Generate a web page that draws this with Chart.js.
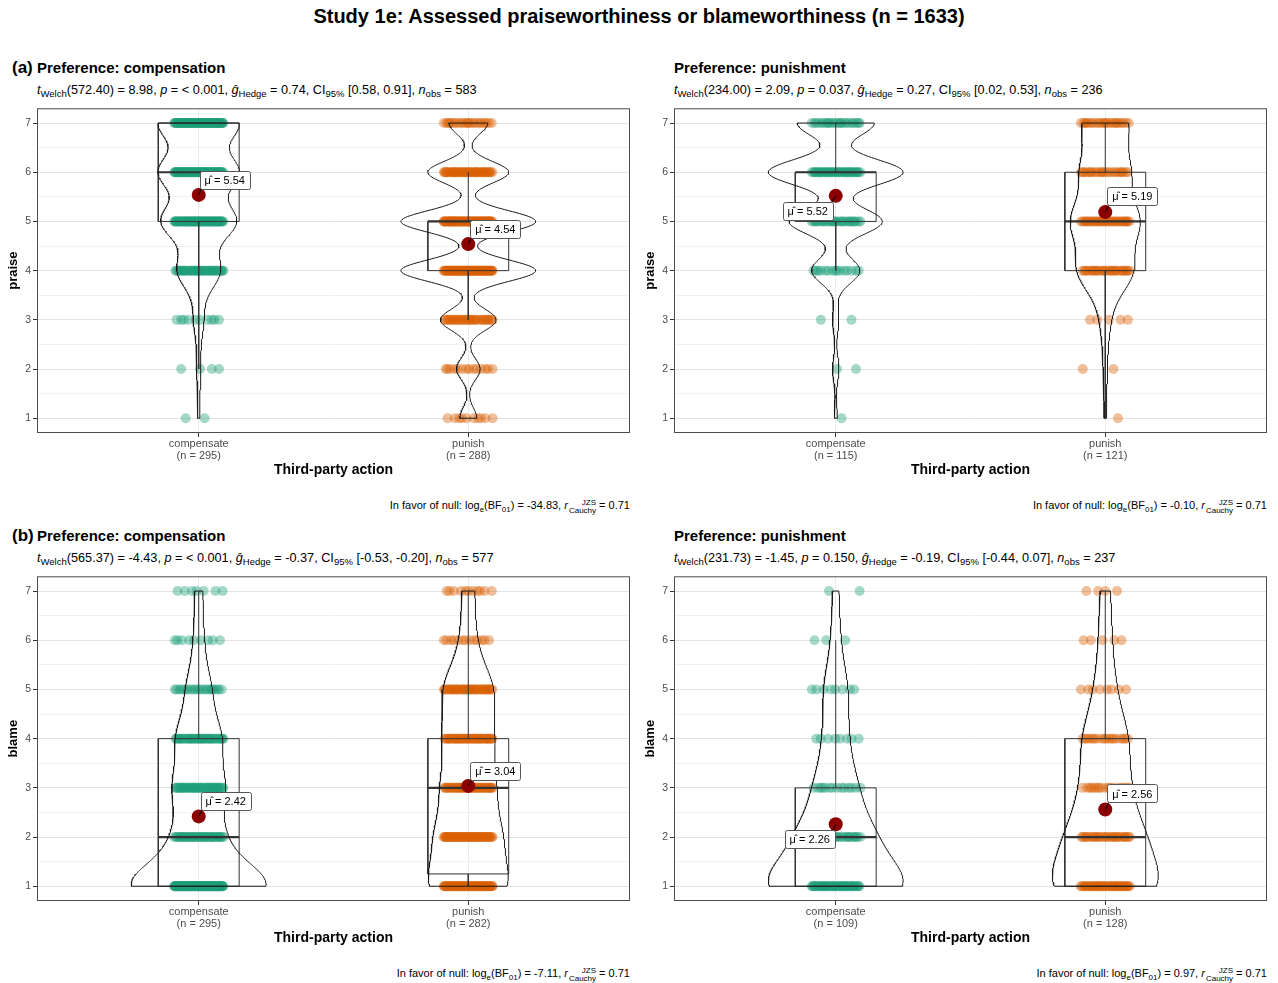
<!DOCTYPE html>
<html><head><meta charset="utf-8">
<script src="https://cdn.jsdelivr.net/npm/chart.js@4.4.1/dist/chart.umd.min.js"></script>
<style>
body{margin:0;background:#fff;width:1278px;height:983px;position:relative;overflow:hidden;font-family:'Liberation Sans',Arial,sans-serif;color:#000}
.t{position:absolute;white-space:nowrap}
canvas{position:absolute}
.title{left:0;width:1278px;text-align:center;font-size:20px;line-height:20px;font-weight:bold;top:6px}
.tag{font-size:17px;line-height:17px;font-weight:bold}
.ptitle{font-size:15px;line-height:15px;font-weight:bold}
.sub{font-size:12.7px;line-height:13px}
.sub sub{font-size:9.5px;vertical-align:-3px;line-height:0}
.foot{font-size:11px;line-height:11px;text-align:right}
.foot sub{font-size:8px;vertical-align:-3px;line-height:0}
.ss{display:inline-flex;flex-direction:column;vertical-align:4px;font-size:8px;line-height:8px;margin-left:1px}
</style></head><body>
<div id="root"></div>
<script>
// ---------------- DATA ----------------
const mainTitle = 'Study 1e: Assessed praiseworthiness or blameworthiness (n = 1633)';
const categories = ['compensate', 'punish'];
const yTicks = [1, 2, 3, 4, 5, 6, 7];
const yGrid = [1, 1.5, 2, 2.5, 3, 3.5, 4, 4.5, 5, 5.5, 6, 6.5, 7];
const panelTags = ['(a)', '', '(b)', ''];
const panelTitles = ['Preference: compensation', 'Preference: punishment', 'Preference: compensation', 'Preference: punishment'];
const yTitles = ['praise', 'praise', 'blame', 'blame'];
const xTitle = 'Third-party action';

// counts of responses at 1..7 for each group (compensate, punish)
const praiseComp_comp = [2, 4, 10, 43, 75, 80, 81];
const praiseComp_pun  = [10, 14, 33, 80, 80, 48, 23];
const praisePun_comp  = [1, 2, 2, 15, 29, 42, 24];
const praisePun_pun   = [1, 2, 5, 29, 35, 25, 24];
const blameComp_comp  = [130, 42, 45, 40, 22, 9, 7];
const blameComp_pun   = [71, 56, 45, 42, 44, 13, 11];
const blamePun_comp   = [49, 25, 14, 8, 8, 3, 2];
const blamePun_pun    = [45, 30, 18, 18, 8, 5, 4];

// group means (as labelled)
const means_praiseComp = [5.54, 4.54];
const means_praisePun  = [5.52, 5.19];
const means_blameComp  = [2.42, 3.04];
const means_blamePun   = [2.26, 2.56];

// statistics in subtitles / captions
const welchDf  = [572.40, 234.00, 565.37, 231.73];
const tStat    = [8.98, 2.09, -4.43, -1.45];
const pText    = ['< 0.001', '0.037', '< 0.001', '0.150'];
const gHedge   = [0.74, 0.27, -0.37, -0.19];
const ciLow    = [0.58, 0.02, -0.53, -0.44];
const ciHigh   = [0.91, 0.53, -0.20, 0.07];
const nObs     = [583, 236, 577, 237];
const logBF01  = [-34.83, -0.10, -7.11, 0.97];
const rCauchy  = [0.71, 0.71, 0.71, 0.71];

// ---------------- STYLE ----------------
const groupColors = ['rgba(27,158,119,0.4)', 'rgba(217,95,2,0.4)'];
const panelLayout = [
  {left: 0,   top: 100, textTop: 58},
  {left: 637, top: 100, textTop: 58},
  {left: 0,   top: 568, textTop: 526},
  {left: 637, top: 568, textTop: 526}
];
const meanLabelOffsets = [[[26, -15], [27, -15]], [[-28, 15], [27, -16]], [[27, -15], [27, -15]], [[-26, 15], [27, -16]]];
const JITTER = 0.092, BOX_HALF = 0.15, VIOLIN_HALF = 0.25;

Chart.defaults.font.family = "'Liberation Sans', Arial, sans-serif";

const panels = [
  {counts: [praiseComp_comp, praiseComp_pun], means: means_praiseComp},
  {counts: [praisePun_comp, praisePun_pun], means: means_praisePun},
  {counts: [blameComp_comp, blameComp_pun], means: means_blameComp},
  {counts: [blamePun_comp, blamePun_pun], means: means_blamePun}
];

// ---------------- HELPERS ----------------
const f2 = v => v.toFixed(2);
function expand(counts) { const a = []; counts.forEach((c, i) => { for (let k = 0; k < c; k++) a.push(yTicks[i]); }); return a; }
function q7(s, p) { const h = (s.length - 1) * p, lo = Math.floor(h), hi = Math.ceil(h); return s[lo] + (h - lo) * (s[hi] - s[lo]); }
function boxStats(counts) {
  const s = expand(counts);
  const q1 = q7(s, 0.25), med = q7(s, 0.5), q3 = q7(s, 0.75), iqr = q3 - q1;
  const lo = s.find(v => v >= q1 - 1.5 * iqr), hi = [...s].reverse().find(v => v <= q3 + 1.5 * iqr);
  return {q1, med, q3, lo, hi};
}
function bwNrd0(counts) {
  const s = expand(counts), n = s.length;
  const m = s.reduce((a, b) => a + b, 0) / n;
  const sd = Math.sqrt(s.reduce((a, b) => a + (b - m) * (b - m), 0) / (n - 1));
  const iqr = q7(s, 0.75) - q7(s, 0.25);
  return 0.9 * Math.min(sd, iqr / 1.34) * Math.pow(n, -0.2);
}
function dens(counts, bw, y) {
  let s = 0, n = 0;
  counts.forEach((c, i) => { const z = (y - yTicks[i]) / bw; s += c * Math.exp(-0.5 * z * z); n += c; });
  return s / (n * bw * Math.sqrt(2 * Math.PI));
}
function frac(x) { return x - Math.floor(x); }

// ---------------- TEXT ----------------
const root = document.getElementById('root');
function addText(cls, html, style) { const d = document.createElement('div'); d.className = 't ' + cls; d.innerHTML = html; Object.assign(d.style, style); root.appendChild(d); return d; }
addText('title', mainTitle, {});

panels.forEach((p, pi) => {
  const L = panelLayout[pi];
  const plotLeft = L.left + 37, plotRight = L.left + 630;
  if (panelTags[pi]) addText('tag', panelTags[pi], {left: (L.left + 12) + 'px', top: (L.textTop + 0.5) + 'px'});
  addText('ptitle', panelTitles[pi], {left: plotLeft + 'px', top: (L.textTop + 2) + 'px'});
  addText('sub', '<i>t</i><sub>Welch</sub>(' + f2(welchDf[pi]) + ') = ' + f2(tStat[pi]) + ', <i>p</i> = ' + pText[pi] +
    ', <i>g\u0302</i><sub>Hedge</sub> = ' + f2(gHedge[pi]) + ', CI<sub>95%</sub> [' + f2(ciLow[pi]) + ', ' + f2(ciHigh[pi]) +
    '], <i>n</i><sub>obs</sub> = ' + nObs[pi], {left: plotLeft + 'px', top: (L.textTop + 25.5) + 'px'});
  addText('foot', 'In favor of null: log<sub>e</sub>(BF<sub>01</sub>) = ' + f2(logBF01[pi]) + ', <i>r</i><span class="ss"><span>JZS</span><span>Cauchy</span></span> = ' + f2(rCauchy[pi]),
    {right: (1278 - plotRight) + 'px', top: (L.textTop + 440.5) + 'px'});
});

// ---------------- CHARTS ----------------
const borderPlugin = {
  id: 'panelBorder',
  afterDraw(chart) {
    const {ctx, chartArea: a} = chart;
    ctx.save(); ctx.strokeStyle = '#4D4D4D'; ctx.lineWidth = 1;
    ctx.strokeRect(a.left + 0.5, a.top + 0.5, a.right - a.left - 1, a.bottom - a.top - 1);
    ctx.restore();
  }
};
const meanLabelPlugin = {
  id: 'meanLabels',
  afterDatasetsDraw(chart) {
    const o = chart.options.plugins.meanLabels;
    const {ctx} = chart, xs = chart.scales.x, ys = chart.scales.y;
    o.means.forEach((m, g) => {
      const px = xs.getPixelForValue(g + 1), py = ys.getPixelForValue(m);
      const [dx, dy] = o.offsets[g];
      ctx.save();
      ctx.font = "11px 'Liberation Sans', Arial, sans-serif";
      const txt = '\u03BC\u0302 = ' + f2(m);
      const w = ctx.measureText(txt).width + 10, h = 18;
      const cx = px + dx, cy = py + dy;
      const bl = cx - w / 2, bt = cy - h / 2;
      const ex = dx > 0 ? bl : bl + w, ey = dy < 0 ? bt + h : bt;
      ctx.strokeStyle = '#000'; ctx.lineWidth = 1;
      ctx.beginPath(); ctx.moveTo(px, py); ctx.lineTo(ex + (dx > 0 ? 3 : -3), ey + (dy < 0 ? -3 : 3)); ctx.stroke();
      ctx.fillStyle = '#fff'; ctx.strokeStyle = '#555';
      ctx.beginPath(); ctx.roundRect(Math.round(bl) + 0.5, Math.round(bt) + 0.5, Math.round(w), h, 2); ctx.fill(); ctx.stroke();
      ctx.fillStyle = '#000'; ctx.textAlign = 'center'; ctx.textBaseline = 'middle';
      ctx.fillText(txt, cx, cy + 1);
      ctx.restore();
    });
  }
};

panels.forEach((p, pi) => {
  const L = panelLayout[pi];
  const cv = document.createElement('canvas');
  cv.width = 640; cv.height = 380;
  cv.style.left = L.left + 'px'; cv.style.top = L.top + 'px';
  root.appendChild(cv);

  const bws = p.counts.map(bwNrd0);
  const grids = p.counts.map((c, g) => {
    const vmin = yTicks[c.findIndex(v => v > 0)], vmax = yTicks[c.length - 1 - [...c].reverse().findIndex(v => v > 0)];
    const N = 300, pts = [];
    for (let i = 0; i <= N; i++) { const y = vmin + (vmax - vmin) * i / N; pts.push({y, d: dens(c, bws[g], y)}); }
    return pts;
  });
  const dmax = Math.max(...grids.flat().map(q => q.d));

  const datasets = [];
  p.counts.forEach((c, g) => {
    const cx = g + 1;
    // mean point
    datasets.push({data: [{x: cx, y: p.means[g]}], pointRadius: 7, backgroundColor: '#8B0000', borderWidth: 0, order: 1});
    // violin
    const right = grids[g].map(q => ({x: cx + VIOLIN_HALF * q.d / dmax, y: q.y}));
    const left = grids[g].map(q => ({x: cx - VIOLIN_HALF * q.d / dmax, y: q.y})).reverse();
    datasets.push({data: right.concat(left, [right[0]]), showLine: true, pointRadius: 0, borderColor: '#1a1a1a', borderWidth: 1, fill: false, order: 2});
    // box
    const b = boxStats(c);
    const line = (pts, w) => ({data: pts, showLine: true, pointRadius: 0, borderColor: '#333', borderWidth: w, fill: false, order: 3});
    datasets.push(line([{x: cx - BOX_HALF, y: b.q1}, {x: cx + BOX_HALF, y: b.q1}, {x: cx + BOX_HALF, y: b.q3}, {x: cx - BOX_HALF, y: b.q3}, {x: cx - BOX_HALF, y: b.q1}], 1));
    datasets.push(line([{x: cx, y: b.q1}, {x: cx, y: b.lo}], 1));
    datasets.push(line([{x: cx, y: b.q3}, {x: cx, y: b.hi}], 1));
    datasets.push(line([{x: cx - BOX_HALF, y: b.med}, {x: cx + BOX_HALF, y: b.med}], 2.2));
    // jittered points
    const pts = [];
    c.forEach((n, i) => { for (let k = 0; k < n; k++) pts.push({x: cx + (frac((k + 1) * 0.6180339887 + i * 0.291 + g * 0.137) - 0.5) * 2 * JITTER, y: yTicks[i]}); });
    datasets.push({data: pts, pointRadius: 5, backgroundColor: groupColors[g], borderWidth: 0, order: 4});
  });

  const nLabels = p.counts.map(c => c.reduce((a, b) => a + b, 0));
  new Chart(cv, {
    type: 'scatter',
    data: {datasets},
    plugins: [borderPlugin, meanLabelPlugin],
    options: {
      responsive: false, animation: false, events: [], devicePixelRatio: 1,
      layout: {padding: {left: 0, top: 8, right: 10, bottom: 0}},
      plugins: {legend: {display: false}, tooltip: {enabled: false}, meanLabels: {means: p.means, offsets: meanLabelOffsets[pi]}},
      scales: {
        x: {
          type: 'linear', min: 0.4, max: 2.6,
          afterBuildTicks: s => { s.ticks = categories.map((_, i) => ({value: i + 1})); },
          afterFit: s => { s.height = 47; },
          ticks: {autoSkip: false, maxRotation: 0, padding: 1, color: '#4D4D4D', font: {size: 11, lineHeight: 1.1},
            callback: v => [categories[v - 1], '(n = ' + nLabels[v - 1] + ')']},
          grid: {color: '#EBEBEB', lineWidth: 1, tickLength: 4, tickColor: '#333'},
          border: {display: false},
          title: {display: true, text: xTitle, color: '#000', font: {size: 14, weight: 'bold', lineHeight: 1.2}, padding: {top: 0, bottom: 1}}
        },
        y: {
          type: 'linear', min: 0.7, max: 7.3,
          afterBuildTicks: s => { s.ticks = yGrid.map(v => ({value: v})); },
          afterFit: s => { s.width = 37; },
          ticks: {autoSkip: false, padding: 2, color: '#4D4D4D', font: {size: 10.5},
            callback: v => (yTicks.includes(v) ? String(v) : '')},
          grid: {color: c => (yTicks.includes(c.tick.value) ? '#E3E3E3' : '#F1F1F1'), lineWidth: 1, tickLength: 4,
            tickColor: c => (yTicks.includes(c.tick.value) ? '#333' : 'rgba(0,0,0,0)')},
          border: {display: false},
          title: {display: true, text: yTitles[pi], color: '#000', font: {size: 13, weight: 'bold', lineHeight: 1.2}, padding: {top: 6, bottom: 0}}
        }
      }
    }
  });
});
</script>
</body></html>
